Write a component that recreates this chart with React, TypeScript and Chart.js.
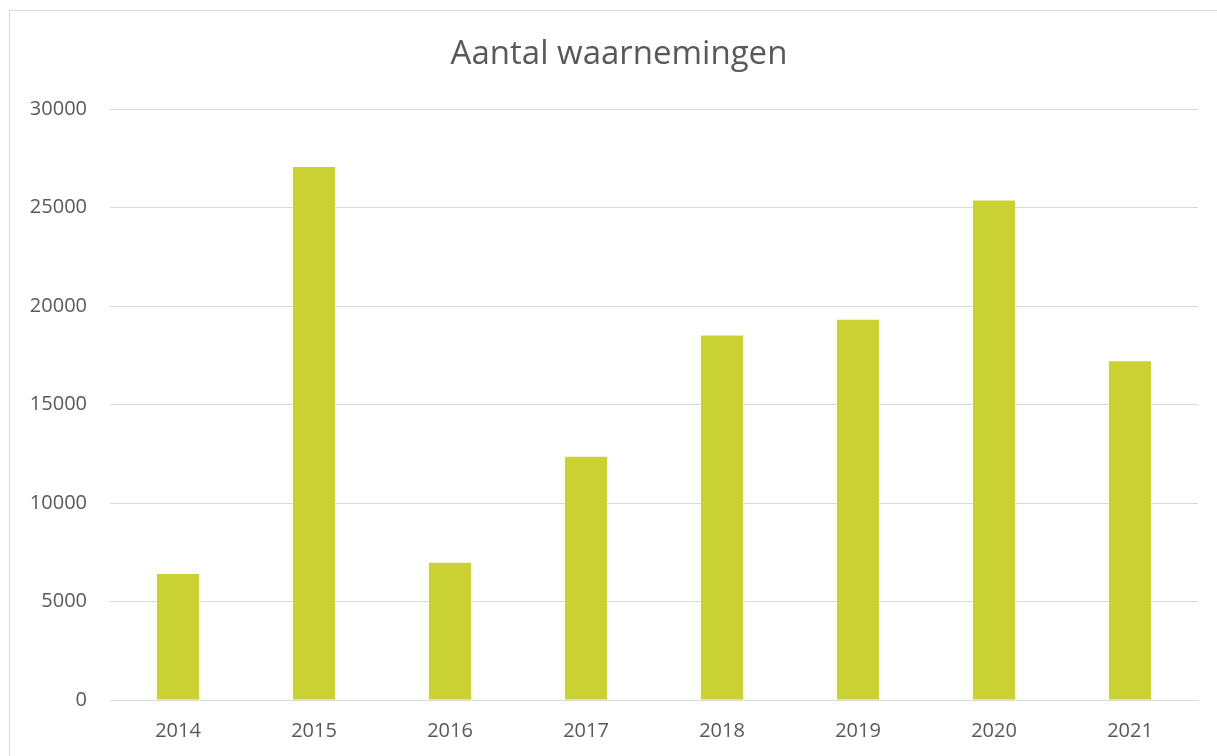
import React, { useEffect, useRef } from "react";
import { Chart, registerables } from "chart.js";

Chart.register(...registerables);

const years = ["2014", "2015", "2016", "2017", "2018", "2019", "2020", "2021"];
const observations = [6400, 27050, 6970, 12350, 18500, 19300, 25350, 17200];
const yTicks = [0, 5000, 10000, 15000, 20000, 25000, 30000];
const title = "Aantal waarnemingen";

const titlePlugin = {
  id: "centeredTitle",
  afterDraw(chart: any) {
    const ctx = chart.ctx;
    ctx.save();
    ctx.fillStyle = "#595959";
    ctx.font = "normal 33px 'Open Sans'";
    ctx.textAlign = "center";
    ctx.textBaseline = "middle";
    ctx.fillText(title, 619, 55);
    ctx.restore();
  },
};

export default function App() {
  const ref = useRef<HTMLCanvasElement | null>(null);

  useEffect(() => {
    if (!ref.current) return;
    const chart = new Chart(ref.current, {
      type: "bar",
      data: {
        labels: years,
        datasets: [
          {
            label: title,
            data: observations,
            backgroundColor: "#c9d232",
            borderWidth: 0,
            barPercentage: 0.31,
            categoryPercentage: 1,
          },
        ],
      },
      plugins: [titlePlugin],
      options: {
        responsive: false,
        animation: false,
        layout: { padding: { left: 0, right: 19, top: 109, bottom: 0 } },
        plugins: {
          legend: { display: false },
          tooltip: { enabled: false },
          title: { display: false },
        },
        scales: {
          x: {
            grid: { display: false, drawTicks: false },
            border: { display: true, color: "#d9d9d9", width: 1 },
            ticks: {
              color: "#595959",
              font: { family: "'Open Sans'", size: 20 },
              padding: 19,
              maxRotation: 0,
            },
            afterFit: (scale: any) => {
              scale.height = 56;
            },
          },
          y: {
            min: 0,
            max: 30000,
            afterBuildTicks: (scale: any) => {
              scale.ticks = yTicks.map((v) => ({ value: v }));
            },
            grid: { color: "#d9d9d9", lineWidth: 1, drawTicks: false },
            border: { display: false },
            ticks: {
              color: "#595959",
              font: { family: "'Open Sans'", size: 20 },
              padding: 23,
              callback: (v: any) => String(v),
            },
            afterFit: (scale: any) => {
              scale.width = 110;
            },
          },
        },
      },
    });
    return () => chart.destroy();
  }, []);

  return (
    <div style={{ position: "fixed", left: 0, top: 0, width: 1217, height: 756, overflow: "hidden", background: "#fff" }}>
      <div
        style={{
          position: "absolute",
          left: 9,
          top: 10,
          width: 1300,
          height: 900,
          border: "1px solid #d9d9d9",
          boxSizing: "border-box",
        }}
      />
      <canvas
        ref={ref}
        width={1217}
        height={756}
        style={{ position: "absolute", left: 0, top: 0, width: 1217, height: 756 }}
      />
    </div>
  );
}
